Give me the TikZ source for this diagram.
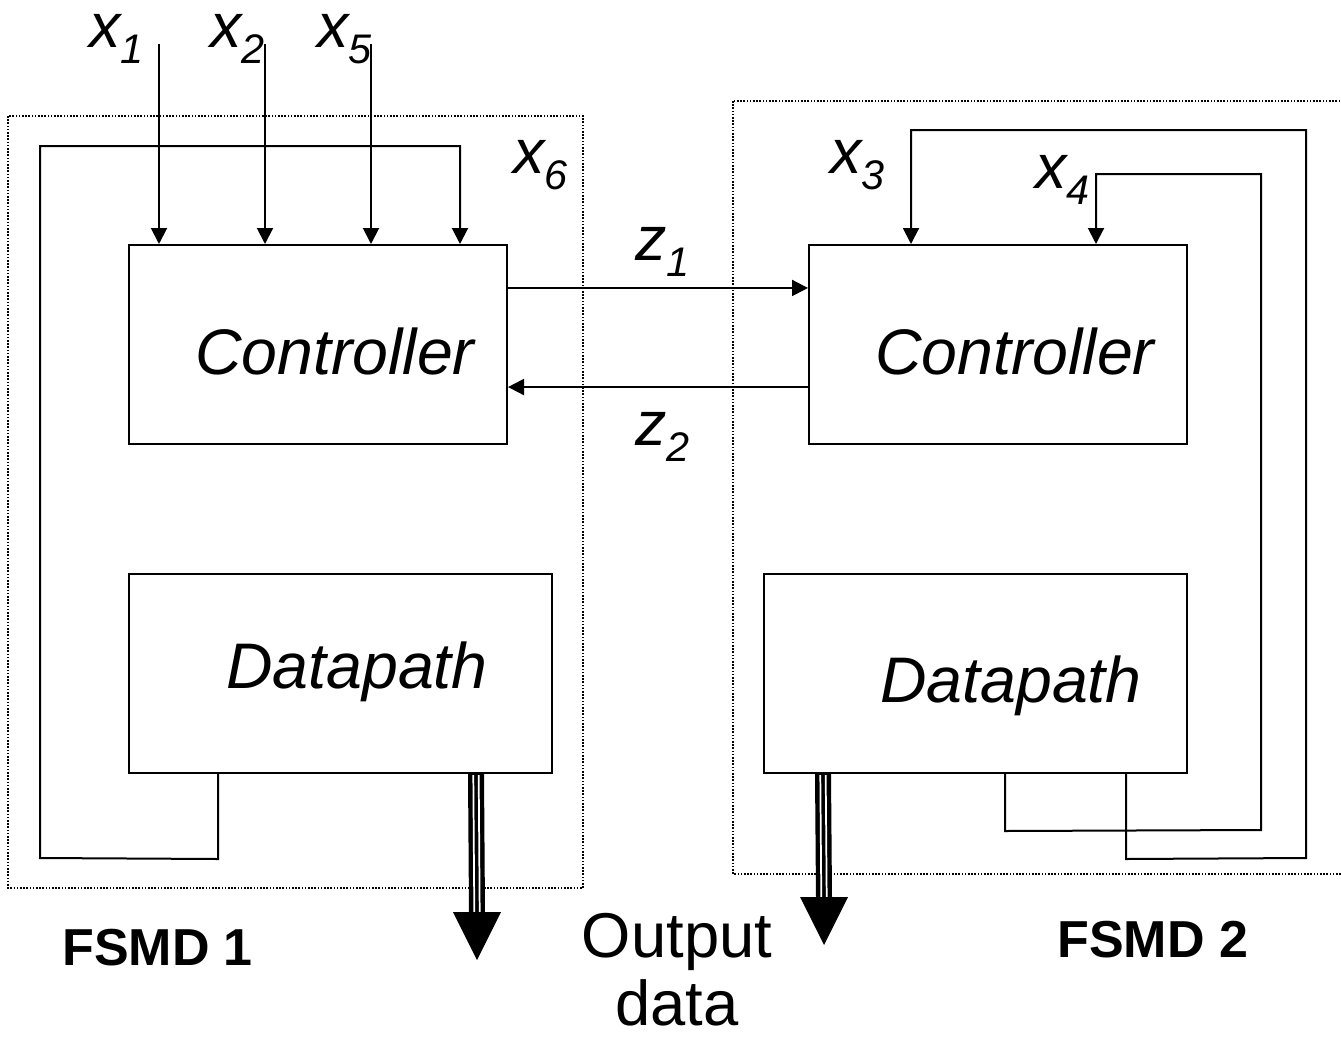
\documentclass[tikz,border=0pt]{standalone}
\usepackage{fontspec}
\setmainfont{Liberation Sans}
\usetikzlibrary{arrows.meta,calc}
% signal name with a lowered index, e.g. x_1
\newcommand\signame[2]{\fontsize{47pt}{50pt}\selectfont\itshape #1\raisebox{-12.5pt}{\fontsize{31pt}{32pt}\selectfont #2}}

\begin{document}
\begin{tikzpicture}[x=0.75pt,y=-0.75pt,
  wire/.style={line width=1.5pt},
  arr/.style={wire,-{Triangle[length=12pt,width=12pt]}},
  frame/.style={line width=1.2pt,dash pattern=on 1.2pt off 1.2pt},
  block/.style={draw,line width=1.5pt,inner sep=0pt,minimum height=149.25pt},
  ctrlbox/.style={block,minimum width=283.5pt},
  dpbox/.style={block,minimum width=317.25pt},
  lbl/.style={anchor=base west,inner sep=0pt},
  siglbl/.style={lbl,text height=25pt},
  blocktext/.style={lbl,font=\fontsize{48.3pt}{50pt}\selectfont\itshape},
  caption/.style={lbl,font=\fontsize{39pt}{40pt}\selectfont\bfseries},
  plain/.style={anchor=base,inner sep=0pt,font=\fontsize{47.5pt}{50pt}\selectfont},
  busline/.style={line width=12pt},
  busgap/.style={line width=1.3pt,white}]

\useasboundingbox (0,0) rectangle (1341,1042);
\clip (0,0) rectangle (1341,1042);

% FSMD frames
\draw[frame] (8,116) rectangle (583,888);
\draw[frame] (733,101) rectangle (1350,874);

% blocks
\node[ctrlbox] (c1) at (318,344.5) {};
\node[dpbox]   (d1) at (340.5,673.5) {};
\node[ctrlbox] (c2) at (998,344.5) {};
\node[dpbox]   (d2) at (975.5,673.5) {};

\node[blocktext] (c1t) at (195,374) {Controller};
\node[blocktext] (d1t) at (226,688) {Datapath};
\node[blocktext] (c2t) at (875,374) {Controller};
\node[blocktext] (d2t) at (880,702) {Datapath};

% external inputs of FSMD 1
\coordinate (in1) at (159,44);
\coordinate (in2) at (265,44);
\coordinate (in5) at (371,44);
\draw[arr] (in1) -- (in1 |- c1.north);
\draw[arr] (in2) -- (in2 |- c1.north);
\draw[arr] (in5) -- (in5 |- c1.north);

% status feedback x6
\draw[arr] ([xshift=67.5pt]d1.south west) -- ++(0,85) -- (40,858) -- (40,146)
  -| ([xshift=249pt]c1.north west);

% status feedback x3 and x4
\draw[arr] ([xshift=272.25pt]d2.south west) -- ++(0,85) -- (1306,858) -- (1306,130)
  -| ([xshift=77.25pt]c2.north west);
\draw[arr] ([xshift=181.5pt]d2.south west) -- ++(0,57) -- (1261,830) -- (1261,174)
  -| ([xshift=216pt]c2.north west);

% handshake between the controllers
\draw[arr] ([yshift=42.4pt]c1.east) -- ([yshift=42.4pt]c2.west);
\draw[arr] ([yshift=-31.9pt]c2.west) -- ([yshift=-31.9pt]c1.east);

% output buses
\coordinate (o1s) at ([xshift=261pt]d1.south west);
\coordinate (o1e) at (477,960);
\coordinate (o2s) at ([xshift=45pt]d2.south west);
\coordinate (o2e) at (824,945);
\foreach \s/\e in {o1s/o1e,o2s/o2e}{
  \draw[busline] (\s) -- ($(\e)+(0,-47)$);
  \draw[busgap] ($(\s)+(-2.7,1)$) -- ($(\e)+(-2.7,-47)$);
  \draw[busgap] ($(\s)+(2.7,1)$) -- ($(\e)+(2.7,-47)$);
  \fill ($(\e)+(-24,-48)$) -- ($(\e)+(24,-48)$) -- (\e) -- cycle;
}

% signal names
\node[siglbl] (lx1) at (89,47)   {\signame{x}{1}};
\node[siglbl] (lx2) at (210,47)  {\signame{x}{2}};
\node[siglbl] (lx5) at (317,47)  {\signame{x}{5}};
\node[siglbl] (lx6) at (513,173) {\signame{x}{6}};
\node[siglbl] (lx3) at (830,173) {\signame{x}{3}};
\node[siglbl] (lx4) at (1035,188){\signame{x}{4}};
\node[siglbl] (lz1) at (635,260) {\signame{z}{1}};
\node[siglbl] (lz2) at (635,445) {\signame{z}{2}};

% captions
\node[caption] (f1) at (62,965)   {FSMD 1};
\node[caption] (f2) at (1057,957) {FSMD 2};
\node[plain] (out1) at (677,957)  {Output};
\node[plain] (out2) at (677,1025) {data};
\end{tikzpicture}
\end{document}
